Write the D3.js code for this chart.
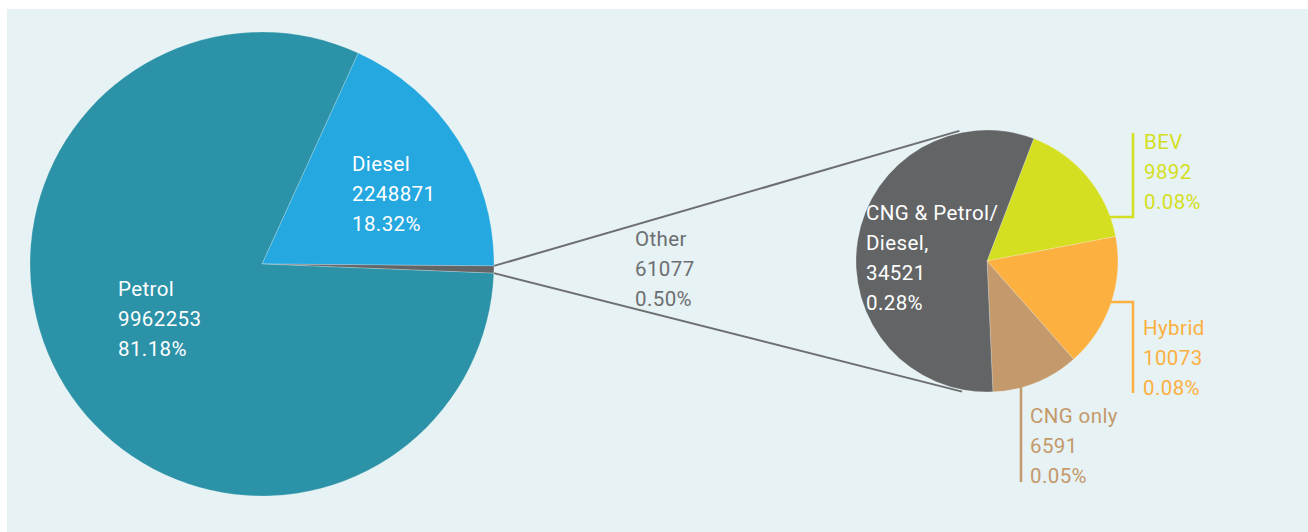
<!DOCTYPE html>
<html>
<head>
<meta charset="utf-8">
<script src="https://cdn.jsdelivr.net/npm/d3@7"></script>
<style>
  html, body { margin: 0; padding: 0; background: #ffffff; }
  svg { display: block; }
  text { font-family: Roboto, "Liberation Sans", sans-serif; font-size: 20.5px; letter-spacing: 0.4px; }
</style>
</head>
<body>
<svg id="chart" width="1308" height="532"></svg>
<script>
// ---- data ----
const mainCategories = ["Diesel", "Other", "Petrol"];
const mainValues = [2248871, 61077, 9962253];
const mainShares = ["18.32%", "0.50%", "81.18%"];

const subCategories = ["BEV", "Hybrid", "CNG only", "CNG & Petrol/Diesel,"];
const subValues = [9892, 10073, 6591, 34521];
const subShares = ["0.08%", "0.08%", "0.05%", "0.28%"];

// ---- styles / layout ----
const mainColors = ["#25a8e0", "#636466", "#2c92a7"];
const subColors = ["#d5df21", "#fcb040", "#c4996b", "#636466"];
const bg = "#e6f2f4";
const deg = Math.PI / 180;

const W = 1308, H = 532;
const svg = d3.select("#chart");
svg.append("rect").attr("x", 7).attr("y", 9).attr("width", W - 7).attr("height", H - 9).attr("fill", bg);

const main = { cx: 262, cy: 264, r: 232, start: 24.5 * deg };
const sub = { cx: 987, cy: 261, r: 131, start: 20.9 * deg };

function pieFor(start) {
  return d3.pie().sort(null).value(d => d.value).startAngle(start).endAngle(start + 2 * Math.PI);
}

const mainData = mainCategories.map((c, i) => ({ cat: c, value: mainValues[i], share: mainShares[i], color: mainColors[i] }));
const subData = subCategories.map((c, i) => ({ cat: c, value: subValues[i], share: subShares[i], color: subColors[i] }));

const mainArcs = pieFor(main.start)(mainData);
const subArcs = pieFor(sub.start)(subData);

const pt = (c, ang, rad) => [c.cx + rad * Math.sin(ang), c.cy - rad * Math.cos(ang)];

// connector lines from "Other" slice to sub pie
const other = mainArcs[1];
const conn = [
  [pt(main, other.startAngle, main.r), pt(sub, 348 * deg, sub.r + 2)],
  [pt(main, other.endAngle, main.r), pt(sub, 190.8 * deg, sub.r + 2)]
];
svg.append("g").selectAll("line").data(conn).join("line")
  .attr("x1", d => d[0][0]).attr("y1", d => d[0][1])
  .attr("x2", d => d[1][0]).attr("y2", d => d[1][1])
  .attr("stroke", "#6d6e71").attr("stroke-width", 2);

// main pie
const mainArc = d3.arc().innerRadius(0).outerRadius(main.r);
svg.append("g").attr("transform", `translate(${main.cx},${main.cy})`)
  .selectAll("path").data(mainArcs).join("path")
  .attr("d", mainArc).attr("fill", d => d.data.color)
  .attr("stroke", "rgba(255,255,255,0.35)").attr("stroke-width", 0.6);

// sub pie
const subArc = d3.arc().innerRadius(0).outerRadius(sub.r);
svg.append("g").attr("transform", `translate(${sub.cx},${sub.cy})`)
  .selectAll("path").data(subArcs).join("path")
  .attr("d", subArc).attr("fill", d => d.data.color)
  .attr("stroke", "rgba(255,255,255,0.35)").attr("stroke-width", 0.6);

// labels
const fmt = d3.format("d");
function label(x, y, lines, color) {
  const t = svg.append("text").attr("x", x).attr("y", y).attr("fill", color);
  lines.forEach((s, i) => t.append("tspan").attr("x", x).attr("dy", i === 0 ? 0 : 30).text(s));
}
const lineSet = d => [d.cat, fmt(d.value), d.share];

// main labels
label(352, 171, lineSet(mainData[0]), "#ffffff");
label(635, 246, lineSet(mainData[1]), "#6d6e71");
label(118, 296, lineSet(mainData[2]), "#ffffff");

// sub labels
label(866, 220, ["CNG & Petrol/", "Diesel,", fmt(subData[3].value), subData[3].share], "#ffffff");
label(1144, 149, lineSet(subData[0]), subData[0].color);
label(1143, 335, lineSet(subData[1]), subData[1].color);
label(1030, 423, lineSet(subData[2]), subData[2].color);

// leader lines (elbow from rim)
function rimX(y) { return sub.cx + Math.sqrt(sub.r * sub.r - (y - sub.cy) ** 2); }
const leaders = [
  { color: subColors[0], pts: [[rimX(217) - 2, 217], [1133, 217], [1133, 133]] },
  { color: subColors[1], pts: [[rimX(302) - 2, 302], [1133, 302], [1133, 393]] },
  { color: subColors[2], pts: [[1021, sub.cy + Math.sqrt(sub.r * sub.r - (1021 - sub.cx) ** 2) - 2], [1021, 482]] }
];
svg.append("g").selectAll("polyline").data(leaders).join("polyline")
  .attr("points", d => d.pts.map(p => p.join(",")).join(" "))
  .attr("fill", "none").attr("stroke", d => d.color).attr("stroke-width", 2.5);
</script>
</body>
</html>
